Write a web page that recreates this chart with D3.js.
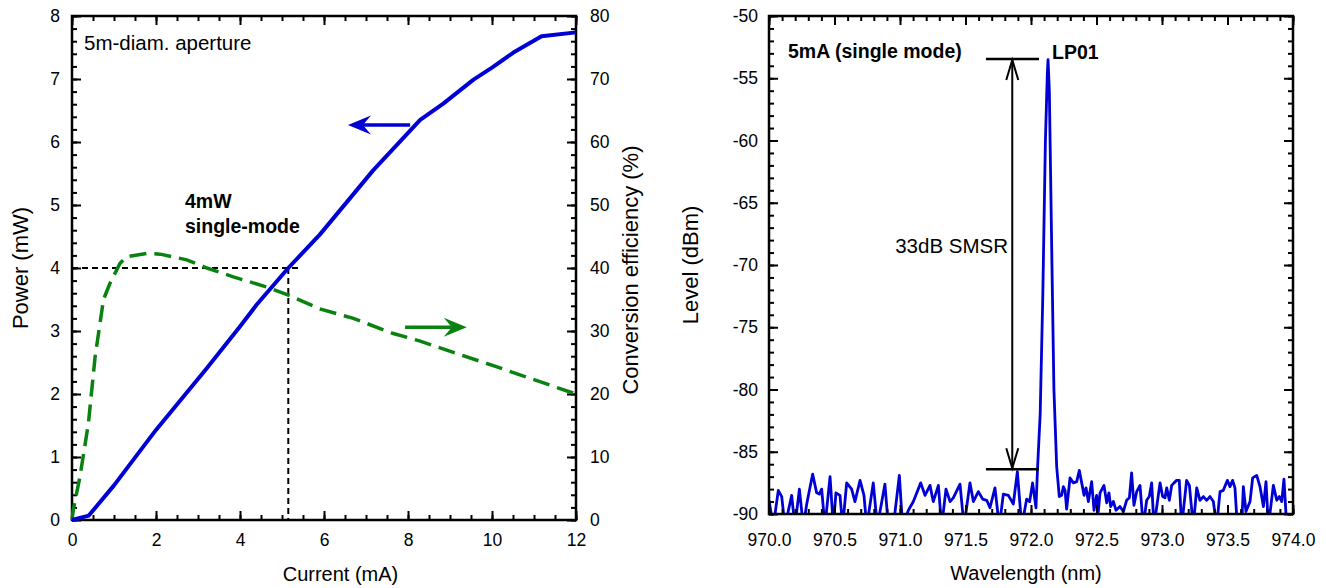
<!DOCTYPE html>
<html><head><meta charset="utf-8">
<script src="https://cdn.jsdelivr.net/npm/d3@7"></script>
<style>
html,body{margin:0;padding:0;background:#fff;}
svg{display:block;font-family:"Liberation Sans",Arial,Helvetica,sans-serif;}
</style></head><body>
<svg id="c" width="1326" height="588"></svg>
<script>
// ---------- Left panel data ----------
const currentMA = [0, 0.4, 1, 2, 3.2, 4, 4.4, 5.15, 5.9, 7.17, 8.29, 8.84, 9.56, 10.0, 10.51, 11.18, 12];
const powerMW   = [0, 0.07, 0.55, 1.43, 2.4, 3.07, 3.42, 4.0, 4.53, 5.55, 6.35, 6.61, 6.99, 7.18, 7.42, 7.68, 7.74];
const effCurrentMA  = [0, 0.03, 0.19, 0.39, 0.55, 0.75, 0.9, 1.14, 1.3, 1.78, 2.1, 2.73, 3.21, 3.84, 4.63, 5.19, 5.9, 6.7, 7.65, 8.29, 9.08, 10.03, 11.14, 12];
const efficiencyPct = [0, 1.6, 6.9, 15.3, 25.9, 35.0, 37.5, 40.7, 41.8, 42.3, 42.2, 41.3, 40.0, 38.6, 37.0, 35.6, 33.5, 32.0, 29.6, 28.4, 26.6, 24.5, 21.95, 20.0];
const currentTicks = [0, 2, 4, 6, 8, 10, 12];
const powerTicks = [0, 1, 2, 3, 4, 5, 6, 7, 8];
const efficiencyTicks = [0, 10, 20, 30, 40, 50, 60, 70, 80];
const refPower = 4, refCurrent = 5.15, refLineEnd = 5.45;

// ---------- Right panel data ----------
const wavelengthNm = [970.000,970.033,970.071,970.097,970.122,970.173,970.198,970.232,970.262,970.288,
 970.333,970.364,970.384,970.402,970.427,970.466,970.491,970.511,970.542,970.562,
 970.593,970.631,970.656,970.695,970.725,970.746,970.796,970.827,970.885,970.911,
 970.949,970.995,971.020,971.064,971.102,971.158,971.191,971.229,971.254,971.293,
 971.318,971.351,971.382,971.407,971.458,971.489,971.534,971.560,971.598,971.631,
 971.662,971.687,971.725,971.758,971.789,971.827,971.865,971.896,971.929,971.967,
 971.990,972.012,972.038,972.050,972.070,972.090,972.110,972.125,972.130,972.140,
 972.160,972.175,972.196,972.216,972.234,972.247,972.260,972.272,972.298,972.323,
 972.349,972.369,972.387,972.405,972.420,972.438,972.463,972.481,972.501,972.514,
 972.527,972.557,972.578,972.595,972.608,972.629,972.649,972.679,972.705,972.730,
 972.751,972.768,972.786,972.807,972.832,972.857,972.883,972.903,972.921,972.939,
 972.985,973.005,973.023,973.036,973.056,973.074,973.092,973.112,973.132,973.150,
 973.188,973.209,973.239,973.265,973.290,973.316,973.341,973.366,973.392,973.417,
 973.443,973.468,973.499,973.519,973.539,973.557,973.575,973.608,973.621,973.641,
 973.672,973.692,973.723,973.748,973.774,973.794,973.812,973.850,973.876,973.896,
 973.914,973.931,973.952,974.000];
const levelDbm = [-88.9,-91,-88.1,-88.6,-91,-88.5,-91,-88.0,-91,-89.2,
 -86.8,-88.3,-88.4,-88.0,-91,-87.0,-91,-88.3,-88.5,-91,
 -87.5,-88.0,-89.0,-87.3,-88.5,-91,-87.5,-91,-87.6,-91,
 -91,-86.9,-91,-89.7,-89.0,-87.5,-88.5,-87.7,-89.0,-87.7,
 -91,-88.0,-89.0,-88.7,-87.6,-91,-87.5,-89.0,-88.2,-88.8,
 -88.9,-89.5,-87.9,-91,-88.4,-88.5,-89.2,-86.6,-91,-88.8,
 -89.0,-87.5,-89.5,-86.3,-82,-72.5,-60,-54.5,-53.5,-56,
 -70,-80,-86.2,-88.6,-88.5,-87.8,-88.1,-89.6,-87.1,-87.5,
 -87.4,-86.5,-87.5,-88.5,-87.9,-89.0,-87.4,-89.7,-88.5,-89.8,
 -88.3,-87.7,-89.1,-88.3,-89.4,-89.0,-89.7,-89.4,-89.8,-88.9,
 -88.7,-86.7,-89.3,-88.2,-87.7,-91,-88.9,-88.6,-87.5,-91,
 -87.5,-88.6,-88.7,-87.9,-88.9,-87.7,-87.5,-87.3,-87.3,-91,
 -87.3,-87.7,-91,-87.9,-88.9,-88.6,-88.9,-88.6,-89.0,-91,
 -88.2,-88.1,-87.3,-87.8,-87.3,-87.9,-91,-91,-87.8,-89.8,
 -89.0,-87.1,-86.9,-87.8,-89.4,-87.4,-91,-87.7,-88.9,-88.6,
 -89.0,-87.2,-91,-91];
const wavelengthTicks = [970.0, 970.5, 971.0, 971.5, 972.0, 972.5, 973.0, 973.5, 974.0];
const levelTicks = [-90, -85, -80, -75, -70, -65, -60, -55, -50];
const smsrTop = -53.45, smsrBottom = -86.4, smsrX = 971.857, smsrX0 = 971.656, smsrX1 = 972.061;

// ---------- Setup ----------
const svg = d3.select("#c");
const L = {x0:72, x1:576, y0:16, y1:520};
const R = {x0:769, x1:1293, y0:16, y1:514};
const xI = d3.scaleLinear().domain([0,12]).range([L.x0,L.x1]);
const yP = d3.scaleLinear().domain([0,8]).range([L.y1,L.y0]);
const yE = d3.scaleLinear().domain([0,80]).range([L.y1,L.y0]);
const xW = d3.scaleLinear().domain([970,974]).range([R.x0,R.x1]);
const yL = d3.scaleLinear().domain([-90,-50]).range([R.y1,R.y0]);

const BLUE = "#0000d4", GREEN = "#0a820f";
const TICKFS = "17.5px";
const MAJ = 9, MIN = 5;

function rangeStep(a, b, s){ const out=[]; for(let v=a; v<=b+1e-9; v+=s) out.push(+v.toFixed(4)); return out; }

function drawAxis(g, axisFn, scale, majors, minors, transform, fmt, pad){
  const gm = g.append("g").attr("transform", transform)
    .call(axisFn(scale).tickValues(minors).tickSize(-MIN).tickFormat(""));
  gm.select(".domain").remove();
  const gM = g.append("g").attr("transform", transform)
    .call(axisFn(scale).tickValues(majors).tickSize(-MAJ).tickPadding(pad).tickFormat(fmt || (()=>"")));
  gM.select(".domain").remove();
  g.selectAll(".tick line").attr("stroke","#000").attr("stroke-width",2);
  gM.selectAll("text").attr("font-size",TICKFS).attr("fill","#000").attr("font-family","'Liberation Sans',Arial,sans-serif");
  return gM;
}

// ---------- Left panel ----------
const gl = svg.append("g");
drawAxis(gl, d3.axisBottom, xI, currentTicks, rangeStep(0,12,0.5), `translate(0,${L.y1})`, d=>String(d), 13.5);
drawAxis(gl, d3.axisTop, xI, currentTicks, rangeStep(0,12,0.5), `translate(0,${L.y0})`, null, 0);
drawAxis(gl, d3.axisLeft, yP, powerTicks, rangeStep(0,8,0.2), `translate(${L.x0},0)`, d=>String(d), 12);
drawAxis(gl, d3.axisRight, yE, efficiencyTicks, rangeStep(0,80,2), `translate(${L.x1},0)`, d=>String(d), 14);
gl.append("rect").attr("x",L.x0).attr("y",L.y0).attr("width",L.x1-L.x0).attr("height",L.y1-L.y0)
  .attr("fill","none").attr("stroke","#000").attr("stroke-width",2.5);

// reference dashed lines
gl.append("line").attr("x1",xI(0)).attr("x2",xI(refLineEnd)).attr("y1",yP(refPower)).attr("y2",yP(refPower))
  .attr("stroke","#000").attr("stroke-width",2).attr("stroke-dasharray","6,4");
gl.append("line").attr("x1",xI(refCurrent)).attr("x2",xI(refCurrent)).attr("y1",yP(refPower)).attr("y2",yP(0))
  .attr("stroke","#000").attr("stroke-width",2).attr("stroke-dasharray","6,4");

// efficiency curve
gl.append("path").datum(effCurrentMA.map((c,i)=>[c,efficiencyPct[i]]))
  .attr("d", d3.line().x(d=>xI(d[0])).y(d=>yE(d[1])))
  .attr("fill","none").attr("stroke",GREEN).attr("stroke-width",3.5).attr("stroke-dasharray","17,8");
// power curve
gl.append("path").datum(currentMA.map((c,i)=>[c,powerMW[i]]))
  .attr("d", d3.line().x(d=>xI(d[0])).y(d=>yP(d[1])))
  .attr("fill","none").attr("stroke",BLUE).attr("stroke-width",4).attr("stroke-linejoin","round");

// arrows
function filledArrow(g, x1, y1, x2, y2, color){
  const ang = Math.atan2(y2-y1, x2-x1);
  const len = 23, hw = 9.5, notch = 15;
  g.append("line").attr("x1",x1).attr("y1",y1)
    .attr("x2",x2 - Math.cos(ang)*notch).attr("y2",y2 - Math.sin(ang)*notch)
    .attr("stroke",color).attr("stroke-width",3.5);
  const pts = [[0,0],[-len,-hw],[-notch,0],[-len,hw]].map(([a,b])=>[
    x2 + a*Math.cos(ang) - b*Math.sin(ang), y2 + a*Math.sin(ang) + b*Math.cos(ang)]);
  g.append("path").attr("d","M"+pts.map(p=>p.join(",")).join("L")+"Z").attr("fill",color);
}
filledArrow(gl, xI(8.05), yP(6.27), xI(6.57), yP(6.27), BLUE);
filledArrow(gl, xI(7.93), yE(30.6), xI(9.4), yE(30.6), GREEN);

// texts
gl.append("text").attr("x",84).attr("y",50).attr("font-size","20.5px").text("5m-diam. aperture");
gl.append("text").attr("x",185).attr("y",208).attr("font-size","19.5px").attr("font-weight","bold").text("4mW");
gl.append("text").attr("x",185).attr("y",233).attr("font-size","19.5px").attr("font-weight","bold").text("single-mode");
gl.append("text").attr("x",340.5).attr("y",581).attr("text-anchor","middle").attr("font-size","20px").text("Current (mA)");
gl.append("text").attr("transform","translate(28,268) rotate(-90)").attr("text-anchor","middle").attr("font-size","22px").text("Power (mW)");
gl.append("text").attr("transform","translate(638,270) rotate(-90)").attr("text-anchor","middle").attr("font-size","22px").text("Conversion efficiency (%)");

// ---------- Right panel ----------
const gr = svg.append("g");
svg.append("defs").append("clipPath").attr("id","clipR").append("rect")
  .attr("x",R.x0).attr("y",R.y0).attr("width",R.x1-R.x0).attr("height",R.y1-R.y0);
gr.append("path").datum(wavelengthNm.map((w,i)=>[w,levelDbm[i]]))
  .attr("clip-path","url(#clipR)")
  .attr("d", d3.line().x(d=>xW(d[0])).y(d=>yL(d[1])))
  .attr("fill","none").attr("stroke",BLUE).attr("stroke-width",2.8).attr("stroke-linejoin","round");

drawAxis(gr, d3.axisBottom, xW, wavelengthTicks, rangeStep(970,974,0.1), `translate(0,${R.y1})`, d3.format(".1f"), 19.5);
drawAxis(gr, d3.axisTop, xW, wavelengthTicks, rangeStep(970,974,0.1), `translate(0,${R.y0})`, null, 0);
drawAxis(gr, d3.axisLeft, yL, levelTicks, rangeStep(-90,-50,1), `translate(${R.x0},0)`, d=>String(d), 11);
drawAxis(gr, d3.axisRight, yL, levelTicks, rangeStep(-90,-50,1), `translate(${R.x1},0)`, null, 0);
gr.append("rect").attr("x",R.x0).attr("y",R.y0).attr("width",R.x1-R.x0).attr("height",R.y1-R.y0)
  .attr("fill","none").attr("stroke","#000").attr("stroke-width",2.5);

// SMSR measurement
gr.append("line").attr("x1",xW(smsrX0)).attr("x2",xW(smsrX1)).attr("y1",yL(smsrTop)).attr("y2",yL(smsrTop))
  .attr("stroke","#000").attr("stroke-width",2.5);
gr.append("line").attr("x1",xW(smsrX0)).attr("x2",xW(smsrX1)).attr("y1",yL(smsrBottom)).attr("y2",yL(smsrBottom))
  .attr("stroke","#000").attr("stroke-width",2.5);
gr.append("line").attr("x1",xW(smsrX)).attr("x2",xW(smsrX)).attr("y1",yL(smsrTop)).attr("y2",yL(smsrBottom))
  .attr("stroke","#000").attr("stroke-width",2);
function openHead(g, x, y, dir){
  g.append("path").attr("d",`M${x-6},${y+dir*20}L${x},${y}L${x+6},${y+dir*20}`)
    .attr("fill","none").attr("stroke","#000").attr("stroke-width",2);
}
openHead(gr, xW(smsrX), yL(smsrTop)+1, 1);
openHead(gr, xW(smsrX), yL(smsrBottom)-1, -1);

gr.append("text").attr("x",788).attr("y",58).attr("font-size","19.5px").attr("font-weight","bold").text("5mA (single mode)");
gr.append("text").attr("x",1052).attr("y",59).attr("font-size","19.5px").attr("font-weight","bold").text("LP01");
gr.append("text").attr("x",1008).attr("y",253).attr("text-anchor","end").attr("font-size","20.5px").text("33dB SMSR");
gr.append("text").attr("x",1026).attr("y",580).attr("text-anchor","middle").attr("font-size","20px").text("Wavelength (nm)");
gr.append("text").attr("transform","translate(698,265) rotate(-90)").attr("text-anchor","middle").attr("font-size","22px").text("Level (dBm)");
</script>
</body></html>
